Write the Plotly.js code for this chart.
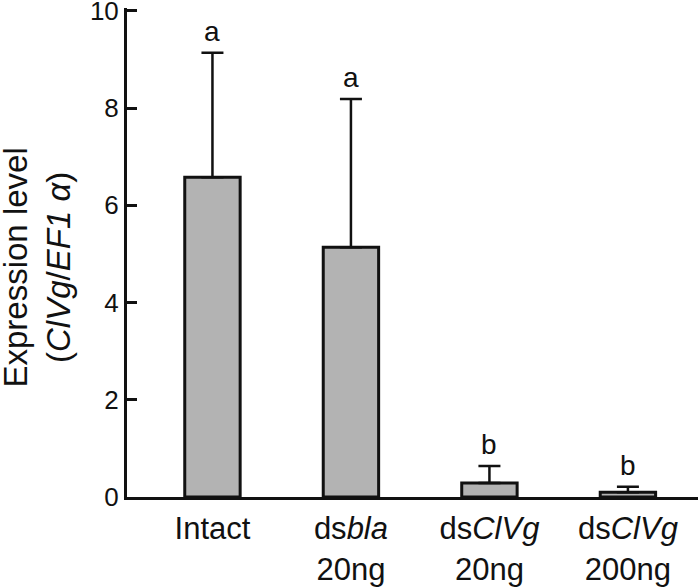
<!DOCTYPE html>
<html>
<head>
<meta charset="utf-8">
<script src="https://cdn.plot.ly/plotly-3.0.1.min.js"></script>
<style>html,body{margin:0;padding:0;background:#fff;}#chart{width:699px;height:588px;}</style>
</head>
<body>
<div id="chart"></div>
<script>
const categories = ["Intact", "ds<i>bla</i><br>20ng", "ds<i>ClVg</i><br>20ng", "ds<i>ClVg</i><br>200ng"];
const means = [6.58, 5.14, 0.29, 0.10];
const errors = [2.56, 3.05, 0.35, 0.11];
const letters = ["a", "a", "b", "b"];
const yTicks = [0, 2, 4, 6, 8, 10];
const yTitle = "Expression level<br>(<i>ClVg</i>/<i>EF1 α</i>)";

const trace = {
  type: "bar",
  x: categories,
  y: means,
  width: 0.40,
  marker: { color: "#b3b3b3", line: { color: "#111", width: 3 } },
  error_y: {
    type: "data",
    symmetric: false,
    array: errors,
    arrayminus: means.map(() => 0),
    color: "#111",
    thickness: 2.5,
    width: 11
  },
  hoverinfo: "none"
};

const annotations = categories.map((c, i) => ({
  x: c, y: means[i] + errors[i], xref: "x", yref: "y",
  text: letters[i], showarrow: false, yanchor: "bottom", yshift: 4,
  font: { family: "Liberation Sans, Arial, sans-serif", size: 28, color: "#111" }
}));
annotations.push({
  xref: "paper", yref: "paper", x: -0.157, y: 0.47,
  xanchor: "center", yanchor: "middle", textangle: -90, showarrow: false,
  text: yTitle,
  font: { family: "Liberation Sans, Arial, sans-serif", size: 33, color: "#111" }
});

const layout = {
  width: 699, height: 588,
  margin: { l: 127, r: 1, t: 8, b: 91 },
  paper_bgcolor: "#fff", plot_bgcolor: "#fff",
  showlegend: false,
  font: { family: "Liberation Sans, Arial, sans-serif", color: "#111" },
  xaxis: {
    range: [-0.617, 3.506],
    showline: true, linecolor: "#111", linewidth: 3,
    ticks: "", showgrid: false, zeroline: false,
    tickfont: { size: 31, color: "#111" },
    ticklabelstandoff: 2,
    ticklabeloverflow: "allow"
  },
  yaxis: {
    range: [0, 10.06],
    tickvals: yTicks, ticktext: yTicks.map(String),
    showline: true, linecolor: "#111", linewidth: 3,
    ticks: "inside", ticklen: 10, tickwidth: 3, tickcolor: "#111",
    showgrid: false, zeroline: false,
    tickfont: { size: 26, color: "#111" },
    ticklabeloverflow: "allow"
  },
  annotations: annotations
};

Plotly.newPlot("chart", [trace], layout, { staticPlot: true, displayModeBar: false });
</script>
</body>
</html>
